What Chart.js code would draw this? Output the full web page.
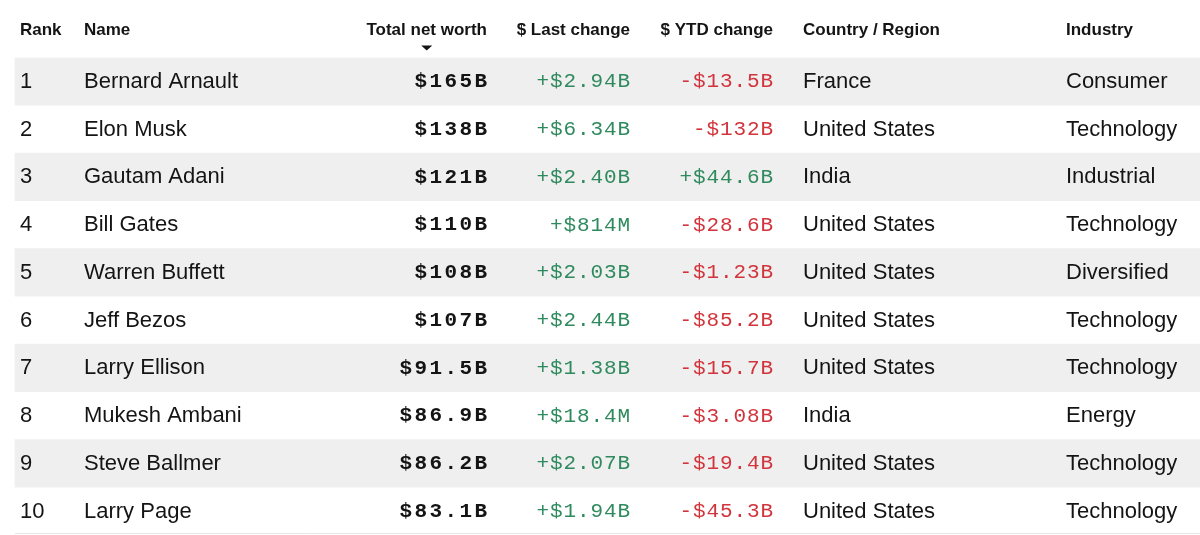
<!DOCTYPE html>
<html>
<head>
<meta charset="utf-8">
<script src="https://cdn.jsdelivr.net/npm/chart.js@4/dist/chart.umd.min.js"></script>
<style>
  html, body { margin: 0; padding: 0; background: #ffffff; }
  #wrap { position: relative; width: 1200px; height: 535px; }
</style>
</head>
<body>
<div id="wrap"><canvas id="c"></canvas></div>
<script>
// ---- data ----
const headers = ['Rank', 'Name', 'Total net worth', '$ Last change', '$ YTD change', 'Country / Region', 'Industry'];
const ranks = [1, 2, 3, 4, 5, 6, 7, 8, 9, 10];
const names = ['Bernard Arnault', 'Elon Musk', 'Gautam Adani', 'Bill Gates', 'Warren Buffett',
               'Jeff Bezos', 'Larry Ellison', 'Mukesh Ambani', 'Steve Ballmer', 'Larry Page'];
const netWorthB = [165, 138, 121, 110, 108, 107, 91.5, 86.9, 86.2, 83.1];
const lastChange = ['+$2.94B', '+$6.34B', '+$2.40B', '+$814M', '+$2.03B',
                    '+$2.44B', '+$1.38B', '+$18.4M', '+$2.07B', '+$1.94B'];
const ytdChange = ['-$13.5B', '-$132B', '+$44.6B', '-$28.6B', '-$1.23B',
                   '-$85.2B', '-$15.7B', '-$3.08B', '-$19.4B', '-$45.3B'];
const countries = ['France', 'United States', 'India', 'United States', 'United States',
                   'United States', 'United States', 'India', 'United States', 'United States'];
const industries = ['Consumer', 'Technology', 'Industrial', 'Technology', 'Diversified',
                    'Technology', 'Technology', 'Energy', 'Technology', 'Technology'];

// ---- styles / layout ----
const GREEN = '#2f8a5e';
const RED = '#d2343c';
const TEXT = '#141414';
const BAND = '#efefef';
const SANS = '"Liberation Sans", Arial, Helvetica, sans-serif';
const MONO = '"Liberation Mono", "DejaVu Sans Mono", monospace';

const fmtWorth = v => '$' + (v >= 100 ? String(v) : v.toFixed(1)) + 'B';

// column anchors in x-scale units (scale spans 0..1200)
const cols = [
  { x: 20,   align: 'left',  kind: 'sans' },
  { x: 84,   align: 'left',  kind: 'sans' },
  { x: 487,  align: 'right', kind: 'monoBold' },
  { x: 630,  align: 'right', kind: 'mono' },
  { x: 773,  align: 'right', kind: 'mono' },
  { x: 803,  align: 'left',  kind: 'sans' },
  { x: 1066, align: 'left',  kind: 'sans' }
];

const cellText = (c, i) => [
  String(ranks[i]), names[i], fmtWorth(netWorthB[i]), lastChange[i], ytdChange[i], countries[i], industries[i]
][c];

const tablePlugin = {
  id: 'tableText',
  afterDatasetsDraw(chart) {
    const ctx = chart.ctx;
    const xs = chart.scales.x, ys = chart.scales.y;
    ctx.save();
    ctx.textBaseline = 'middle';

    // headers
    ctx.fillStyle = TEXT;
    ctx.font = 'bold 17px ' + SANS;
    headers.forEach((h, c) => {
      ctx.textAlign = cols[c].align;
      ctx.fillText(h, xs.getPixelForValue(cols[c].x), 30);
    });
    // sort arrow under "Total net worth"
    const hx = xs.getPixelForValue(cols[2].x);
    const tw = ctx.measureText(headers[2]).width;
    const ax = hx - tw / 2;
    ctx.beginPath();
    ctx.moveTo(ax - 5.5, 45.5);
    ctx.lineTo(ax + 5.5, 45.5);
    ctx.lineTo(ax, 50.5);
    ctx.closePath();
    ctx.fill();

    // body cells
    names.forEach((_, i) => {
      const y = ys.getPixelForValue(i) + 0.5;
      cols.forEach((col, c) => {
        const t = cellText(c, i);
        let x = xs.getPixelForValue(col.x);
        let sp = 0;
        if (col.kind === 'sans') {
          ctx.font = '22px ' + SANS;
          ctx.fillStyle = TEXT;
        } else if (col.kind === 'monoBold') {
          ctx.font = 'bold 21px ' + MONO;
          ctx.fillStyle = TEXT;
          sp = 2.4;
        } else {
          ctx.font = '21px ' + MONO;
          ctx.fillStyle = t.charAt(0) === '-' ? RED : GREEN;
          sp = 0.9;
        }
        ctx.letterSpacing = sp + 'px';
        ctx.textAlign = col.align;
        if (col.align === 'right') x += sp;
        ctx.fillText(t, x, y);
        ctx.letterSpacing = '0px';
      });
    });

    // bottom rule
    const yb = ys.getPixelForValue(names.length - 1) + ys.height / names.length / 2;
    ctx.strokeStyle = '#e6e6e6';
    ctx.lineWidth = 1;
    ctx.beginPath();
    ctx.moveTo(xs.getPixelForValue(15), Math.min(yb, 534) - 0.5);
    ctx.lineTo(xs.getPixelForValue(1200), Math.min(yb, 534) - 0.5);
    ctx.stroke();
    ctx.restore();
  }
};

new Chart(document.getElementById('c'), {
  type: 'bar',
  data: {
    labels: names,
    datasets: [{
      data: names.map((_, i) => (i % 2 === 0 ? [15, 1200] : null)),
      backgroundColor: BAND,
      borderWidth: 0,
      barPercentage: 1,
      categoryPercentage: 1
    }]
  },
  options: {
    indexAxis: 'y',
    responsive: true,
    maintainAspectRatio: false,
    animation: false,
    layout: { padding: { top: 57.5, left: 0, right: 0, bottom: 0 } },
    plugins: { legend: { display: false }, tooltip: { enabled: false } },
    scales: {
      x: { type: 'linear', min: 0, max: 1200, display: false },
      y: { type: 'category', display: false, offset: true }
    }
  },
  plugins: [tablePlugin]
});
</script>
</body>
</html>
